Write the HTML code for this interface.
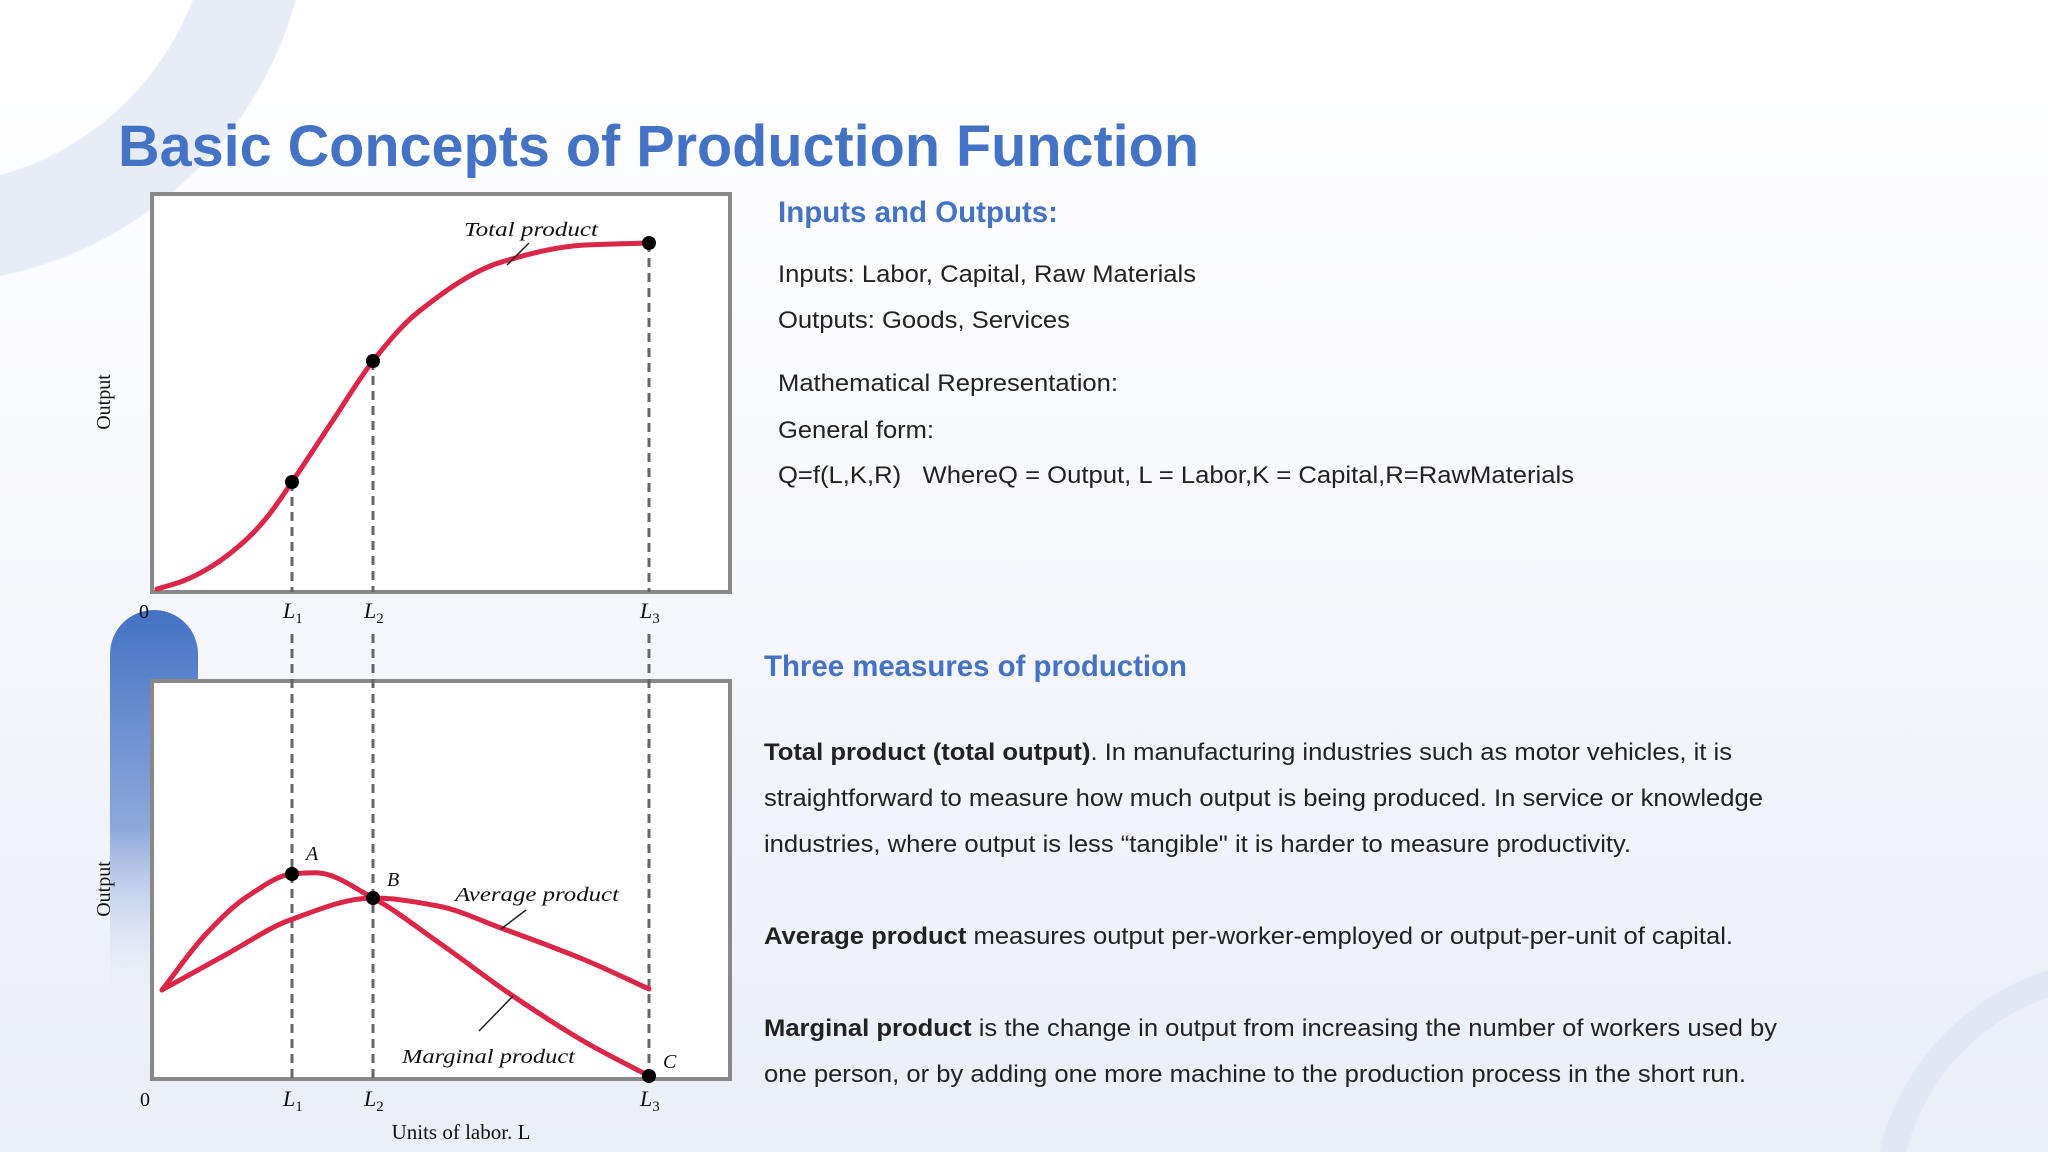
<!DOCTYPE html>
<html><head><meta charset="utf-8">
<style>
html,body{margin:0;padding:0;overflow:hidden;width:2048px;height:1152px;}
body{position:relative;font-family:"Liberation Sans",sans-serif;
background:
 radial-gradient(circle at -78px -104px, transparent 289px, #e7ecf6 291px, #e7ecf6 387px, transparent 389px),
 radial-gradient(circle at 2122px 1208px, transparent 222px, #e2e8f3 224px, #e2e8f3 248px, transparent 250px),
 linear-gradient(180deg,#ffffff 0%,#f7f8fc 45%,#eaeef7 100%);}
svg{position:absolute;left:0;top:0;overflow:hidden;display:block;}
</style></head>
<body>
<svg id="page" width="2048" height="1152" viewBox="0 0 2048 1152">
  <defs>
    <linearGradient id="blueFade" x1="0" y1="0" x2="0" y2="1">
      <stop offset="0" stop-color="#4472c4"/>
      <stop offset="0.55" stop-color="#8ea9db"/>
      <stop offset="1" stop-color="#eef1f8" stop-opacity="0"/>
    </linearGradient>
  </defs>

  <text x="118" y="166" font-family="Liberation Sans, sans-serif" font-weight="bold" font-size="58" fill="#4472c4" textLength="1081" lengthAdjust="spacingAndGlyphs">Basic Concepts of Production Function</text>

  <g font-family="Liberation Sans, sans-serif" fill="#222">
    <text x="778" y="222" font-weight="bold" font-size="30" fill="#4472c4" textLength="280" lengthAdjust="spacingAndGlyphs">Inputs and Outputs:</text>
    <text x="778" y="282" font-size="24" textLength="418" lengthAdjust="spacingAndGlyphs">Inputs: Labor, Capital, Raw Materials</text>
    <text x="778" y="328" font-size="24" textLength="292" lengthAdjust="spacingAndGlyphs">Outputs: Goods, Services</text>
    <text x="778" y="391" font-size="24" textLength="340" lengthAdjust="spacingAndGlyphs">Mathematical Representation:</text>
    <text x="778" y="438" font-size="24" textLength="156" lengthAdjust="spacingAndGlyphs">General form:</text>
    <text x="778" y="483" font-size="24" textLength="796" lengthAdjust="spacingAndGlyphs" xml:space="preserve">Q=f(L,K,R)   WhereQ = Output, L = Labor,K = Capital,R=RawMaterials</text>
  </g>

  <g font-family="Liberation Sans, sans-serif" fill="#222" font-size="24">
    <text x="764" y="676" font-weight="bold" font-size="30" fill="#4472c4" textLength="423" lengthAdjust="spacingAndGlyphs">Three measures of production</text>
    <text x="764" y="760" textLength="968" lengthAdjust="spacingAndGlyphs"><tspan font-weight="bold">Total product (total output)</tspan>. In manufacturing industries such as motor vehicles, it is</text>
    <text x="764" y="806" textLength="999" lengthAdjust="spacingAndGlyphs">straightforward to measure how much output is being produced. In service or knowledge</text>
    <text x="764" y="852" textLength="867" lengthAdjust="spacingAndGlyphs">industries, where output is less “tangible" it is harder to measure productivity.</text>
    <text x="764" y="944" textLength="969" lengthAdjust="spacingAndGlyphs"><tspan font-weight="bold">Average product</tspan> measures output per-worker-employed or output-per-unit of capital.</text>
    <text x="764" y="1036" textLength="1013" lengthAdjust="spacingAndGlyphs"><tspan font-weight="bold">Marginal product</tspan> is the change in output from increasing the number of workers used by</text>
    <text x="764" y="1082" textLength="982" lengthAdjust="spacingAndGlyphs">one person, or by adding one more machine to the production process in the short run.</text>
  </g>

  <path d="M110,654 A44,44 0 0 1 198,654 L198,1010 L110,1010 Z" fill="url(#blueFade)"/>

  <g id="charts" font-family="Liberation Serif, serif"></g>
</svg>
<script>
// ---- data ----
const markerLabels = ["L1", "L2", "L3"];
const markerUnits = [2.8, 4.42, 9.94];
const tpUnits = [0.1, 0.62, 1.14, 1.92, 2.32, 2.8, 3.61, 4.42, 5.3, 6.98, 8.66, 9.94];
const tpValues = [1, 3, 6.25, 13.75, 19.25, 27.75, 43, 58, 70, 82.7, 87, 87.5];
const mpUnits = [0.2, 1.08, 1.92, 2.8, 3.28, 4.42, 5.72, 7.22, 8.66, 9.94];
const mpValues = [22.5, 36.5, 46, 51.5, 51.8, 45.5, 34.5, 21, 9.5, 1];
const apUnits = [0.2, 1.5, 2.76, 4.42, 5.72, 6.98, 8.66, 9.94];
const apValues = [22.5, 31.5, 40, 45.5, 43.5, 38, 30, 22.75];
const pointLabels = ["A", "B", "C"];
const pointUnits = [2.8, 4.42, 9.94];
const pointValues = [51.5, 45.5, 1];

const NS = "http://www.w3.org/2000/svg";
const root = document.getElementById("charts");
const X0 = 152, PXU = 50;
const xS = u => X0 + u * PXU;
const topY = v => 593 - v * 4;
const botY = v => 1080 - v * 4;

function mk(tag, attrs, parent) {
  const e = document.createElementNS(NS, tag);
  for (const k in attrs) e.setAttribute(k, attrs[k]);
  (parent || root).appendChild(e);
  return e;
}
function smooth(pts) {
  const n = pts.length, dx = [], s = [], m = [];
  for (let i = 0; i < n - 1; i++) { dx[i] = pts[i+1][0] - pts[i][0]; s[i] = (pts[i+1][1] - pts[i][1]) / dx[i]; }
  m[0] = s[0]; m[n-1] = s[n-2];
  for (let i = 1; i < n - 1; i++) {
    if (s[i-1] * s[i] <= 0) m[i] = 0;
    else { const w1 = 2*dx[i] + dx[i-1], w2 = dx[i] + 2*dx[i-1]; m[i] = (w1 + w2) / (w1 / s[i-1] + w2 / s[i]); }
  }
  let d = "M" + pts[0][0] + "," + pts[0][1];
  for (let i = 0; i < n - 1; i++) {
    const h = dx[i] / 3;
    d += " C" + (pts[i][0] + h) + "," + (pts[i][1] + m[i]*h) + " " + (pts[i+1][0] - h) + "," + (pts[i+1][1] - m[i+1]*h) + " " + pts[i+1][0] + "," + pts[i+1][1];
  }
  return d;
}
function lLabel(x, y, i, name) {
  const t = mk("text", { x: x - 9, y: y, "font-size": "22", fill: "#111" });
  
  
  const a = mk("tspan", { "font-style": "italic" }, t); a.textContent = "L";
  const b = mk("tspan", { dy: "5", "font-size": "15" }, t); b.textContent = String(i + 1);
}

let box = mk("rect", { x: 152, y: 194, width: 578, height: 398, fill: "#fff", stroke: "#888", "stroke-width": "4" });


let box2 = mk("rect", { x: 152, y: 681, width: 578, height: 398, fill: "#fff", stroke: "#888", "stroke-width": "4" });



markerUnits.forEach((u, i) => {
  const x = xS(u);
  const idx = tpUnits.indexOf(u);
  const l1 = mk("line", { x1: x, y1: topY(idx >= 0 ? tpValues[idx] : 0), x2: x, y2: 592, stroke: "#666", "stroke-width": "3", "stroke-dasharray": "9,6" });
  
  
  const l2 = mk("line", { x1: x, y1: 634, x2: x, y2: 1078, stroke: "#666", "stroke-width": "3", "stroke-dasharray": "9,6" });
  
  
  lLabel(x, 618, i, 'top-x-tick-' + markerLabels[i]);
  lLabel(x, 1106, i, 'bottom-x-tick-' + markerLabels[i]);
});

let tp = mk("path", { d: smooth(tpUnits.map((u, i) => [xS(u), topY(tpValues[i])])), fill: "none", stroke: "#dc2647", "stroke-width": "5", "stroke-linecap": "round" });


markerUnits.forEach((u, i) => {
  const v = tpValues[tpUnits.indexOf(u)];
  const c = mk("circle", { cx: xS(u), cy: topY(v), r: 7, fill: "#000" });
  
  
});
let tpl = mk("text", { x: 464, y: 236, "font-size": "20", "font-style": "italic", fill: "#111", textLength: "134", lengthAdjust: "spacingAndGlyphs" });
tpl.textContent = "Total product";


let tpk = mk("line", { x1: 529, y1: 243, x2: 507, y2: 265, stroke: "#222", "stroke-width": "1.5" });



let ap = mk("path", { d: smooth(apUnits.map((u, i) => [xS(u), botY(apValues[i])])), fill: "none", stroke: "#dc2647", "stroke-width": "5", "stroke-linecap": "round" });


let mp = mk("path", { d: smooth(mpUnits.map((u, i) => [xS(u), botY(mpValues[i])])), fill: "none", stroke: "#dc2647", "stroke-width": "5", "stroke-linecap": "round" });


const ptOffsets = [[14, -14], [14, -12], [14, -8]];
pointUnits.forEach((u, i) => {
  const c = mk("circle", { cx: xS(u), cy: botY(pointValues[i]), r: 7, fill: "#000" });
  
  
  const t = mk("text", { x: xS(u) + ptOffsets[i][0], y: botY(pointValues[i]) + ptOffsets[i][1], "font-size": "20", "font-style": "italic", fill: "#111" });
  t.textContent = pointLabels[i];
  
  
});
let apl = mk("text", { x: 455, y: 901, "font-size": "20", "font-style": "italic", fill: "#111", textLength: "164", lengthAdjust: "spacingAndGlyphs" });
apl.textContent = "Average product";


let apk = mk("line", { x1: 526, y1: 910, x2: 501, y2: 929, stroke: "#222", "stroke-width": "1.5" });


let mpl = mk("text", { x: 402, y: 1063, "font-size": "20", "font-style": "italic", fill: "#111", textLength: "173", lengthAdjust: "spacingAndGlyphs" });
mpl.textContent = "Marginal product";


let mpk = mk("line", { x1: 513, y1: 996, x2: 479, y2: 1031, stroke: "#222", "stroke-width": "1.5" });



let o1 = mk("text", { x: 144, y: 618, "font-size": "20", fill: "#111", "text-anchor": "middle" });
o1.textContent = "0";


let o2 = mk("text", { x: 145, y: 1106, "font-size": "20", fill: "#111", "text-anchor": "middle" });
o2.textContent = "0";


let y1t = mk("text", { x: 0, y: 0, "font-size": "20", fill: "#111", "text-anchor": "middle", transform: "translate(110,402) rotate(-90)" });
y1t.textContent = "Output";


let y2t = mk("text", { x: 0, y: 0, "font-size": "20", fill: "#111", "text-anchor": "middle", transform: "translate(110,889) rotate(-90)" });
y2t.textContent = "Output";


let xt = mk("text", { x: 461, y: 1139, "font-size": "21", fill: "#111", "text-anchor": "middle" });
xt.textContent = "Units of labor. L";


</script>
</body></html>
